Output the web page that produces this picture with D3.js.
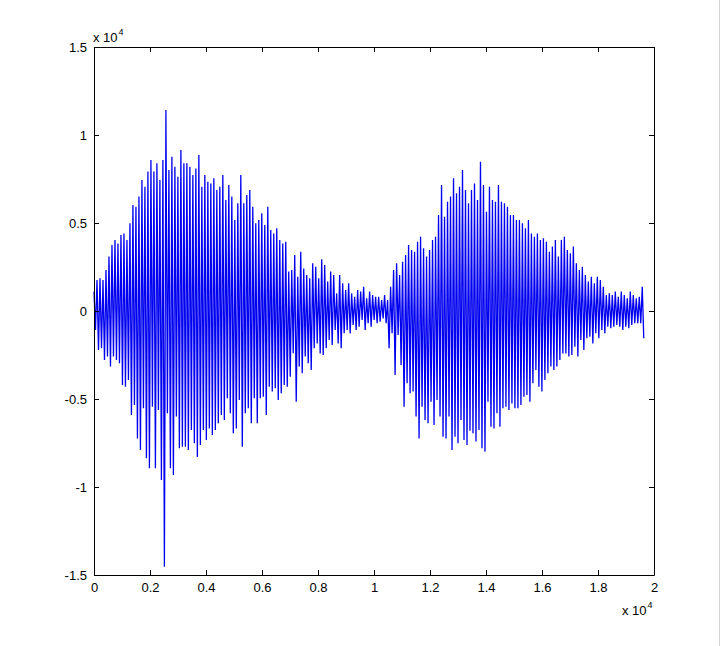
<!DOCTYPE html>
<html>
<head>
<meta charset="utf-8">
<script src="https://cdn.jsdelivr.net/npm/d3@7"></script>
<style>
  html, body { margin: 0; padding: 0; background: #fff; }
  svg { display: block; }
  text { font-family: "Liberation Sans", Arial, Helvetica, sans-serif; }
</style>
</head>
<body>
<svg id="chart" width="722" height="646"></svg>
<script>
// ---- data ----
// Sample spacing between successive oscillation peaks (samples)
const peakSpacing = 107;
// Upper peaks of the waveform, one per oscillation
const upperPeaks = [
  1100,1760,1860,1760,2330,3090,3750,4030,3840,4320,4410,4030,4980,6020,5930,6500,7440,7060,7920,8580,7920,8390,7440,8580,11420,8010,8770,8200,7630,9150,8390,8390,
  8200,7730,8100,8860,7060,7730,7350,7250,7540,6880,7060,7730,6310,7160,6500,5170,6120,7730,6120,6590,6880,5930,4980,5170,5550,4890,5930,4600,4410,4700,4030,3840,
  3940,2240,2330,3180,1950,3370,2420,2050,1860,2710,2520,1860,2940,2610,1670,2240,2050,1000,2050,1570,1190,1570,1000,810,1190,1100,1380,720,1100,910,810,
  810,620,910,620,1380,2330,2710,2050,2800,3180,3750,3470,3370,3940,4220,3560,3090,3470,4030,4220,5450,7160,5360,6210,6500,7540,6690,7060,8010,6880,6120,
  6880,7250,6310,8480,7160,5640,7060,6310,6210,7160,6210,6120,5930,5450,5450,5170,5170,4980,4700,5170,4410,4220,4410,4030,4130,3940,3370,3660,4030,3090,4030,
  4220,3470,3280,3660,2710,2330,2520,2050,1670,1950,1570,1950,1760,1380,910,1000,910,1100,810,1100,910,720,1100,910,720,810,1380
];
// Lower peaks of the waveform, one per oscillation
const lowerPeaks = [
  -1080,-2220,-2120,-2780,-2590,-3160,-2590,-2780,-2970,-4200,-4300,-3920,-5910,-5340,-7240,-7900,-5530,-8370,-8940,-5440,-8940,-5630,-9600,-14530,-5810,-8940,-9320,-6000,-7800,-7710,-7710,-7900,
  -6760,-7520,-8290,-7610,-6760,-7330,-6670,-7050,-6760,-6380,-5910,-6190,-4960,-5810,-6950,-6670,-5060,-7710,-5810,-5530,-6380,-4960,-6380,-4960,-4870,-5910,-4300,-4580,-4390,-5060,-4680,-4200,
  -4300,-3730,-2400,-5150,-3160,-3540,-2590,-2970,-3350,-2120,-1840,-2410,-2500,-2120,-1650,-1930,-1080,-1840,-2120,-1270,-1080,-1270,-800,-1080,-890,-510,-1080,-700,-890,-510,-700,
  -610,-420,-700,-2120,-1270,-3640,-1360,-3070,-5440,-4110,-4680,-4580,-6000,-7240,-5440,-6190,-6380,-5150,-6480,-5060,-6000,-7140,-7240,-6000,-7900,-7140,-7520,-6190,-7330,-7610,-6800,
  -6950,-7420,-6760,-7800,-7990,-5150,-6570,-6670,-5810,-6570,-5530,-5440,-5630,-5250,-5530,-5530,-5340,-4870,-4770,-5150,-4110,-3350,-4300,-4580,-3920,-3540,-3160,-3350,-3160,-2780,-2410,
  -2410,-2590,-2500,-2030,-2590,-1650,-2220,-1550,-1460,-1840,-1270,-1550,-1080,-1270,-890,-980,-890,-800,-890,-1080,-890,-980,-800,-700,-700,-700,-1550
];
const xTicks = [0,2000,4000,6000,8000,10000,12000,14000,16000,18000,20000];
const yTicks = [-15000,-10000,-5000,0,5000,10000,15000];
const xDomain = [0, 20000];
const yDomain = [-15000, 15000];

// ---- build the waveform points: upper, lower, upper, lower ... ----
const points = [];
upperPeaks.forEach((v, i) => {
  points.push([i * peakSpacing, v]);
  if (i < lowerPeaks.length) points.push([i * peakSpacing + peakSpacing / 2, lowerPeaks[i]]);
});

// ---- layout ----
const svg = d3.select("#chart");
const L = 94, R = 654, T = 47, B = 575;
const x = d3.scaleLinear().domain(xDomain).range([L, R]);
const y = d3.scaleLinear().domain(yDomain).range([B, T]);

svg.append("rect").attr("x",0).attr("y",0).attr("width",722).attr("height",646).attr("fill","#fff");
svg.append("line").attr("x1",719.5).attr("x2",719.5).attr("y1",0).attr("y2",646)
   .attr("stroke","#d4d4d4").attr("stroke-width",1);

const fmt = d => String(d / 10000);

// waveform
svg.append("path")
  .datum(points)
  .attr("fill","none")
  .attr("stroke","#0000f0")
  .attr("stroke-width",1.3)
  .attr("stroke-linejoin","miter")
  .attr("d", d3.line().x(d => x(d[0])).y(d => y(d[1])));

// axes
const fontSize = 13;
const gB = svg.append("g").attr("transform",`translate(0,${B})`)
  .call(d3.axisBottom(x).tickValues(xTicks).tickFormat(fmt).tickSizeInner(-5).tickSizeOuter(0).tickPadding(8));
const gT = svg.append("g").attr("transform",`translate(0,${T})`)
  .call(d3.axisTop(x).tickValues(xTicks).tickFormat("").tickSizeInner(-5).tickSizeOuter(0));
const gL = svg.append("g").attr("transform",`translate(${L},0)`)
  .call(d3.axisLeft(y).tickValues(yTicks).tickFormat(fmt).tickSizeInner(-5).tickSizeOuter(0).tickPadding(7));
const gR = svg.append("g").attr("transform",`translate(${R},0)`)
  .call(d3.axisRight(y).tickValues(yTicks).tickFormat("").tickSizeInner(-5).tickSizeOuter(0));

[gB,gT,gL,gR].forEach(g => {
  g.selectAll(".domain").attr("stroke","#000").attr("stroke-width",1);
  g.selectAll(".tick line").attr("stroke","#000");
  g.selectAll("text").attr("font-size",fontSize).attr("fill","#000")
    .attr("font-family",'"Liberation Sans", Arial, sans-serif');
});

// exponent labels
function expLabel(xp, yp) {
  const t = svg.append("text").attr("x", xp).attr("y", yp)
    .attr("font-size", fontSize).attr("fill","#000");
  t.append("tspan").text("x 10");
  t.append("tspan").attr("font-size", 9).attr("dy", -7).attr("dx", 1).text("4");
}
expLabel(93, 42);
expLabel(622, 615);
</script>
</body>
</html>
